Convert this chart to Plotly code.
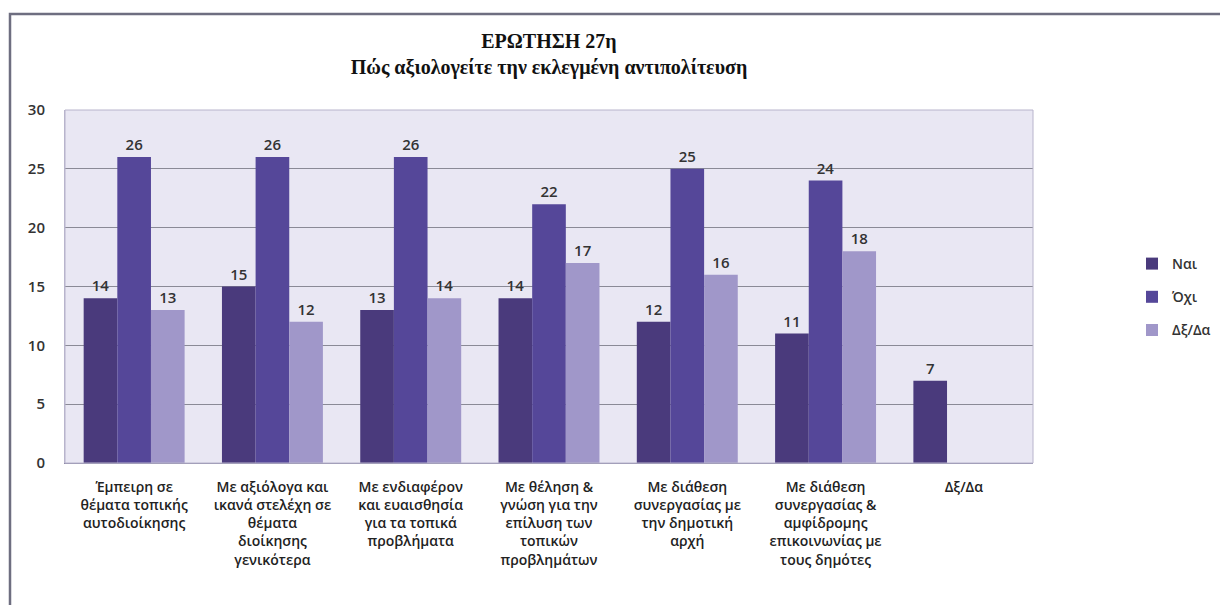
import plotly.graph_objects as go

categories = [
    "Έμπειρη σε<br>θέματα τοπικής<br>αυτοδιοίκησης",
    "Με αξιόλογα και<br>ικανά στελέχη σε<br>θέματα<br>διοίκησης<br>γενικότερα",
    "Με ενδιαφέρον<br>και ευαισθησία<br>για τα τοπικά<br>προβλήματα",
    "Με θέληση &<br>γνώση για την<br>επίλυση των<br>τοπικών<br>προβλημάτων",
    "Με διάθεση<br>συνεργασίας με<br>την δημοτική<br>αρχή",
    "Με διάθεση<br>συνεργασίας &<br>αμφίδρομης<br>επικοινωνίας με<br>τους δημότες",
    "Δξ/Δα",
]
nai = [14, 15, 13, 14, 12, 11, 7]
ochi = [26, 26, 26, 22, 25, 24, None]
dxda = [13, 12, 14, 17, 16, 18, None]
series_names = ["Ναι", "Όχι", "Δξ/Δα"]
colors = ["#4a3a7c", "#554799", "#a097c9"]

W, H = 1228, 605
L, R, T, B = 57, 203, 102, 150

fig = go.Figure()
for i, (name, vals, col) in enumerate(zip(series_names, [nai, ochi, dxda], colors)):
    fig.add_trace(go.Bar(
        x=categories, y=vals, name=name, marker_color=col,
        marker_line_width=0,
        text=[("" if v is None else str(v)) for v in vals],
        textposition="outside", cliponaxis=False,
        textfont=dict(family="Open Sans", size=15, color="#333333", weight=600),
        legendgroup=name,
    ))

plot_w = W - L - R
plot_h = H - T - B

def px_x(p):
    return (p - L) / plot_w

def px_y(p):
    return (H - B - p) / plot_h

fig.update_layout(
    width=W, height=H,
    margin=dict(l=L, r=R, t=T, b=B),
    paper_bgcolor="white",
    plot_bgcolor="#e9e7f3",
    barmode="group",
    bargap=0.27,
    bargroupgap=0,
    title=dict(
        text="<b>ΕΡΩΤΗΣΗ 27η</b><br><b>Πώς αξιολογείτε την εκλεγμένη αντιπολίτευση</b>",
        x=px_x(541), xref="paper", xanchor="center",
        y=1 - 40 / H, yanchor="middle",
        font=dict(family="Liberation Serif", size=20, color="#111111"),
    ),
    legend=dict(
        x=px_x(1124), y=px_y(289), xanchor="left", yanchor="middle",
        xref="paper", yref="paper",
        font=dict(family="Open Sans", size=14, color="#333333", weight=600),
        tracegroupgap=12, bgcolor="rgba(0,0,0,0)",
        itemwidth=30,
    ),
    xaxis=dict(
        tickfont=dict(family="Open Sans", size=14, color="#222222", weight=600),
        showline=True, linecolor="#8e8aa8", linewidth=1,
        ticks="outside", ticklen=11, tickcolor="rgba(0,0,0,0)", showgrid=False,
    ),
    yaxis=dict(
        range=[0, 30], dtick=5,
        tickfont=dict(family="Open Sans", size=15, color="#333333", weight=600),
        showgrid=True, gridcolor="#8a8a96", gridwidth=1,
        zeroline=False, ticklabelstandoff=16,
        showline=True, linecolor="#b8b4cc",
    ),
    shapes=[
        dict(type="rect", xref="paper", yref="paper",
             x0=px_x(2), x1=px_x(1260), y0=px_y(640), y1=px_y(6),
             line=dict(color="#6e6e80", width=2.5), fillcolor="rgba(0,0,0,0)",
             layer="below"),
        dict(type="rect", xref="paper", yref="paper",
             x0=0, x1=1, y0=0, y1=1,
             line=dict(color="#b8b4cc", width=1), fillcolor="rgba(0,0,0,0)"),
    ],
)

fig.write_html("out.html")
